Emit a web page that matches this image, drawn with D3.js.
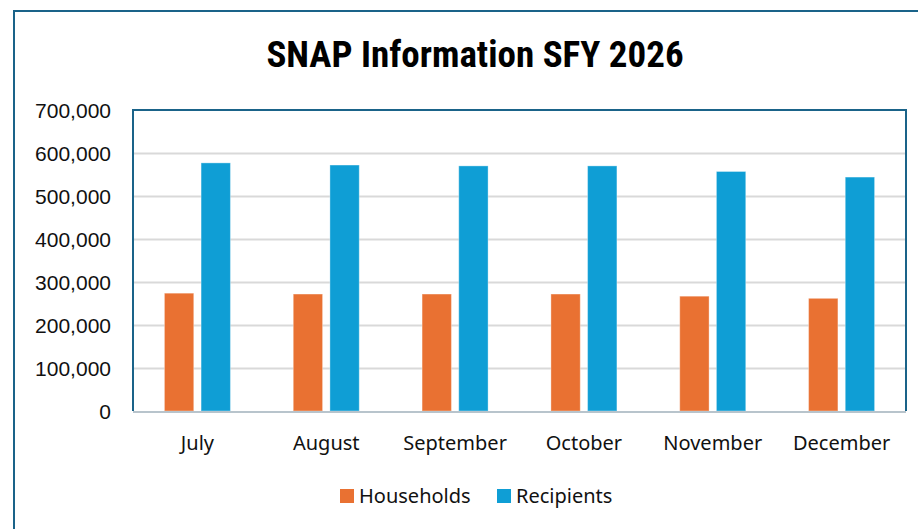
<!DOCTYPE html>
<meta charset="utf-8">
<style>
body { margin: 0; background: #fff; }
svg { display: block; }
.grid line { stroke: #d9d9d9; stroke-width: 2px; }
.grid path { display: none; }
.axis--y path, .axis--y line { display: none; }
.axis--y text { font: 21px 'Liberation Sans', Arial, sans-serif; fill: #111; }
.axis--x path, .axis--x line { display: none; }
.axis--x text { font: 20px 'Noto Sans', sans-serif; fill: #111; }
.legend text { font: 20px 'Noto Sans', sans-serif; fill: #111; }
</style>
<body>
<script src="https://cdnjs.cloudflare.com/ajax/libs/d3/7.8.5/d3.min.js"></script>
<script>
var months = ["July", "August", "September", "October", "November", "December"];
var seriesNames = ["Households", "Recipients"];
var households = [274000, 272000, 272000, 272000, 267000, 262000];
var recipients = [577000, 572000, 570000, 570000, 557000, 544000];
var yTicks = [0, 100000, 200000, 300000, 400000, 500000, 600000, 700000];
var colors = ["#E97132", "#0F9ED5"];

var W = 918, H = 529;
var plot = {left: 133, top: 110, right: 906, bottom: 411};

var svg = d3.select("body").append("svg")
    .attr("width", W)
    .attr("height", H);

// outer chart frame
svg.append("rect")
    .attr("x", 14).attr("y", 11)
    .attr("width", W + 10).attr("height", H + 10)
    .attr("fill", "#fff")
    .attr("stroke", "#1a6389")
    .attr("stroke-width", 2);

svg.append("text")
    .attr("x", 475)
    .attr("y", 67)
    .attr("text-anchor", "middle")
    .style("font", "bold 37px 'Liberation Sans Narrow', 'Roboto Condensed', 'Liberation Sans', sans-serif")
    .attr("fill", "#000")
    .text("SNAP Information SFY 2026");

var x0 = d3.scaleBand().domain(months).range([plot.left, plot.right]);
var x1 = d3.scaleBand().domain(seriesNames).range([0, 66]).paddingInner(0.2);
var y = d3.scaleLinear().domain([0, 700000]).range([plot.bottom, plot.top]);

svg.append("g")
    .attr("class", "grid")
    .attr("transform", "translate(" + plot.left + ",0)")
    .call(d3.axisRight(y).tickValues(yTicks.slice(1, -1)).tickSize(plot.right - plot.left).tickFormat(""));

// plot area border (top, left, right)
svg.append("path")
    .attr("d", "M" + plot.left + "," + plot.bottom + "V" + plot.top + "H" + plot.right + "V" + plot.bottom)
    .attr("fill", "none")
    .attr("stroke", "#1a6389")
    .attr("stroke-width", 2);

svg.append("g")
    .attr("class", "axis axis--y")
    .attr("transform", "translate(" + (plot.left - 22) + ",0)")
    .call(d3.axisLeft(y).tickValues(yTicks).tickSize(0).tickPadding(0).tickFormat(d3.format(",")))
    .selectAll("text").attr("dy", "0.35em");

var data = months.map(function(m, i) {
  return {month: m, values: [
    {key: "Households", value: households[i]},
    {key: "Recipients", value: recipients[i]}
  ]};
});

var groups = svg.selectAll(".month")
  .data(data)
  .enter().append("g")
    .attr("class", "month")
    .attr("transform", function(d) { return "translate(" + (x0(d.month) + x0.bandwidth() / 2 - 33) + ",0)"; });

groups.selectAll("rect")
  .data(function(d) { return d.values; })
  .enter().append("rect")
    .attr("x", function(d) { return x1(d.key); })
    .attr("y", function(d) { return y(d.value); })
    .attr("width", x1.bandwidth())
    .attr("height", function(d) { return y(0) - y(d.value); })
    .attr("fill", function(d, i) { return colors[i]; })
    .attr("stroke", "rgba(255,255,255,0.35)")
    .attr("stroke-width", 1);

// baseline
svg.append("line")
    .attr("x1", plot.left).attr("x2", plot.right)
    .attr("y1", plot.bottom + 1).attr("y2", plot.bottom + 1)
    .attr("stroke", "#b8c4cc")
    .attr("stroke-width", 2);

svg.append("g")
    .attr("class", "axis axis--x")
    .attr("transform", "translate(0,443)")
    .call(d3.axisBottom(x0).tickSize(0).tickPadding(0))
    .selectAll("text").attr("dy", "0.35em");

var legend = svg.append("g").attr("class", "legend");
var legendX = [340, 497];
seriesNames.forEach(function(name, i) {
  legend.append("rect")
      .attr("x", legendX[i]).attr("y", 489)
      .attr("width", 14).attr("height", 14)
      .attr("fill", colors[i]);
  legend.append("text")
      .attr("x", legendX[i] + 19).attr("y", 496)
      .attr("dy", "0.35em")
      .text(name);
});
</script>
</body>
